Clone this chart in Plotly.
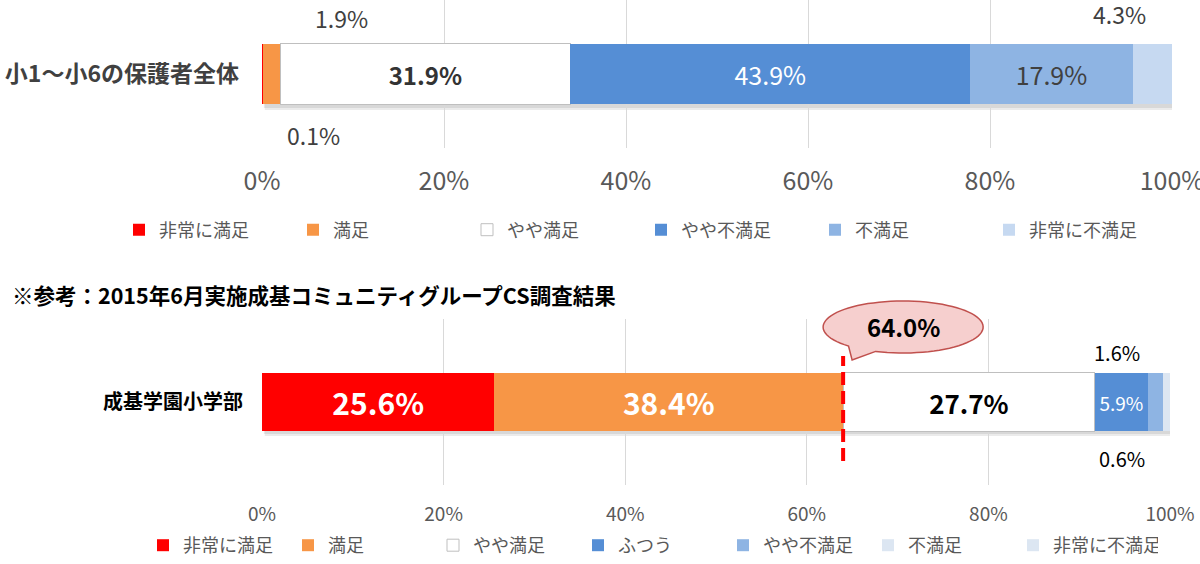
import numpy as np
import plotly.graph_objects as go

# --- data ---------------------------------------------------------------
top_category = "小1〜小6の保護者全体"
top_labels = ["非常に満足", "満足", "やや満足", "やや不満足", "不満足", "非常に不満足"]
top_values = [0.1, 1.9, 31.9, 43.9, 17.9, 4.3]

bottom_title = "※参考：2015年6月実施成基コミュニティグループCS調査結果"
bottom_category = "成基学園小学部"
bottom_labels = ["非常に満足", "満足", "やや満足", "ふつう", "やや不満足", "不満足", "非常に不満足"]
bottom_values = [25.6, 38.4, 27.7, 5.9, 1.6, 0.6, 0.2]

tick_values = [0, 20, 40, 60, 80, 100]
tick_labels = ["0%", "20%", "40%", "60%", "80%", "100%"]

# --- styling ------------------------------------------------------------
FONT = "Noto Sans CJK JP"
top_colors = ["#FF0000", "#F79646", "#FFFFFF", "#558ED5", "#8EB4E3", "#C6D9F1"]
bottom_colors = ["#FF0000", "#F79646", "#FFFFFF", "#558ED5", "#8EB4E3", "#DCE6F2", "#DCE6F2"]

# inside label style per segment: (size, color, bold) or None for no inside label
top_text_style = [None, None, (24, "#333333", True), (25, "#FFFFFF", False), (25, "#404040", False), None]
bottom_text_style = [(30, "#FFFFFF", True), (30, "#FFFFFF", True), (26, "#000000", True),
                     (19, "#FFFFFF", False), None, None, None]

# outside labels: segment index -> (xshift, yshift) in pixels
top_outside = {0: (51, -61), 1: (70, 56), 5: (-33, 60)}
bottom_outside = {4: (-38, 50), 5: (-43, -56)}

# subplot areas (paper fractions of the 1200x564 figure)
top_xdomain = [262 / 1200, 1172 / 1200]
top_ydomain = [1 - 148 / 564, 1]
bottom_xdomain = [262 / 1200, 1170 / 1200]
bottom_ydomain = [1 - 485 / 564, 1 - 319 / 564]

fig = go.Figure()


def add_bars(labels, values, colors, styles, category, xaxis, yaxis, legend, width):
    for name, val, col, st in zip(labels, values, colors, styles):
        line = dict(color="#BFBFBF", width=1) if col == "#FFFFFF" else dict(width=0)
        kw = {}
        if st is not None:
            size, tcol, bold = st
            kw = dict(
                texttemplate="%{x:.1f}%",
                textposition="inside",
                insidetextanchor="middle",
                textangle=0,
                insidetextfont=dict(family=FONT, size=size, color=tcol,
                                    weight="bold" if bold else "normal"),
            )
        fig.add_trace(go.Bar(
            x=[val], y=[category], name=name, orientation="h",
            marker=dict(color=col, line=line), width=width,
            xaxis=xaxis, yaxis=yaxis, legend=legend,
            hovertemplate=name + ": %{x:.1f}%<extra></extra>",
            **kw,
        ))


add_bars(top_labels, top_values, top_colors, top_text_style, top_category, "x", "y", "legend", 0.41)
add_bars(bottom_labels, bottom_values, bottom_colors, bottom_text_style, bottom_category,
         "x2", "y2", "legend2", 0.35)

# outside value labels
annotations = []
for values, outside, xr, yr, size, col in [(top_values, top_outside, "x", "y", 23, "#404040"),
                                          (bottom_values, bottom_outside, "x2", "y2", 20, "#000000")]:
    cum = np.cumsum(values)
    for idx, (dx, dy) in outside.items():
        centre = cum[idx] - values[idx] / 2
        annotations.append(dict(
            x=centre, y=0, xref=xr, yref=yr, text=f"{values[idx]:.1f}%",
            showarrow=False, xshift=dx, yshift=dy,
            font=dict(family=FONT, size=size, color=col),
        ))

# bottom chart title
annotations.append(dict(
    x=10 / 1200, y=1 - 294 / 564, xref="paper", yref="paper", xanchor="left", yanchor="middle",
    text=bottom_title, showarrow=False,
    font=dict(family=FONT, size=21.5, color="#000000", weight="bold"),
))

# callout with the satisfied share
satisfied = bottom_values[0] + bottom_values[1]
annotations.append(dict(
    x=satisfied, y=0, xref="x2", yref="y2", text=f"{satisfied:.1f}%",
    showarrow=False, xshift=60, yshift=76,
    font=dict(family=FONT, size=24, color="#000000", weight="bold"),
))

# ellipse callout outline (pixel offsets from the 64% point on the bar centre)
cx, cy, rx, ry = 60, 75, 80, 26
t_right, t_left = np.deg2rad(250), np.deg2rad(227)
ts = np.linspace(t_left, t_right - 2 * np.pi, 80)
pts = [(cx + rx * np.cos(t), cy + ry * np.sin(t)) for t in ts]
path = f"M{cx + rx * np.cos(t_right):.1f},{cy + ry * np.sin(t_right):.1f} L9,42 "
path += " ".join(f"L{px:.1f},{py:.1f}" for px, py in pts) + " Z"
bar_mid = sum(bottom_ydomain) / 2   # bottom bar centre in paper units

shapes = [
    # soft drop shadows under the bars
    dict(type="rect", xref="x", yref="y", x0=0.3, x1=sum(top_values) + 0.3,
         ysizemode="pixel", yanchor=0, y0=-36, y1=26,
         fillcolor="rgba(0,0,0,0.08)", line=dict(width=0), layer="below"),
    dict(type="rect", xref="x", yref="y", x0=0.2, x1=sum(top_values) + 0.2,
         ysizemode="pixel", yanchor=0, y0=-34, y1=26,
         fillcolor="rgba(0,0,0,0.08)", line=dict(width=0), layer="below"),
    dict(type="rect", xref="x2", yref="y2", x0=0.3, x1=sum(bottom_values) + 0.3,
         ysizemode="pixel", yanchor=0, y0=-34, y1=24,
         fillcolor="rgba(0,0,0,0.08)", line=dict(width=0), layer="below"),
    dict(type="rect", xref="x2", yref="y2", x0=0.2, x1=sum(bottom_values) + 0.2,
         ysizemode="pixel", yanchor=0, y0=-32, y1=24,
         fillcolor="rgba(0,0,0,0.08)", line=dict(width=0), layer="below"),
    # paper y-reference so the bubble is not clipped at the top of the plot area
    dict(type="path", xref="x2", yref="paper", xsizemode="pixel", ysizemode="pixel",
         xanchor=satisfied, yanchor=bar_mid, path=path,
         fillcolor="#F6CFCE", line=dict(color="#C0504D", width=1.5), layer="above"),
    dict(type="line", xref="x2", yref="y2", x0=satisfied, x1=satisfied,
         ysizemode="pixel", yanchor=0, y0=-59, y1=46,
         line=dict(color="#FF0000", width=4, dash="13px,6px"), layer="above"),
]

axis_common = dict(
    range=[0, 100], tickmode="array", tickvals=tick_values, ticktext=tick_labels,
    showgrid=True, gridcolor="#D9D9D9", gridwidth=1, zeroline=False, showline=False,
    ticks="", fixedrange=True, automargin=False, ticklabeloverflow="allow",
)
cat_common = dict(type="category", range=[-0.5, 0.5], autorange=False, showgrid=False,
                  ticks="", fixedrange=True, automargin=False)

fig.update_layout(
    width=1200, height=564,
    margin=dict(l=0, r=0, t=0, b=0),
    barmode="stack",
    paper_bgcolor="white", plot_bgcolor="white",
    font=dict(family=FONT, color="#595959"),
    xaxis=dict(domain=top_xdomain, anchor="y",
               tickfont=dict(size=25, color="#595959"), ticklabelstandoff=16, **axis_common),
    yaxis=dict(domain=top_ydomain, anchor="x",
               tickfont=dict(size=23, color="#404040", weight="bold"), ticklabelstandoff=22,
               **cat_common),
    xaxis2=dict(domain=bottom_xdomain, anchor="y2",
                tickfont=dict(size=19, color="#595959"), ticklabelstandoff=16, **axis_common),
    yaxis2=dict(domain=bottom_ydomain, anchor="x2",
                tickfont=dict(size=20, color="#000000", weight="bold"), ticklabelstandoff=18,
                **cat_common),
    legend=dict(orientation="h", x=119 / 1200, xanchor="left", y=1 - 230 / 564, yanchor="middle",
                entrywidth=129, font=dict(family=FONT, size=18, color="#595959"),
                traceorder="normal", bgcolor="rgba(0,0,0,0)"),
    legend2=dict(orientation="h", x=143 / 1200, xanchor="left", y=0, yanchor="bottom",
                 entrywidth=100, font=dict(family=FONT, size=18, color="#595959"),
                 traceorder="normal", bgcolor="rgba(0,0,0,0)"),
    annotations=annotations,
    shapes=shapes,
    showlegend=True,
)

# the page body keeps the browser's default 8px margin otherwise
fig.write_html("out.html", config={"displayModeBar": False},
               post_script="document.body.style.margin = '0';")
